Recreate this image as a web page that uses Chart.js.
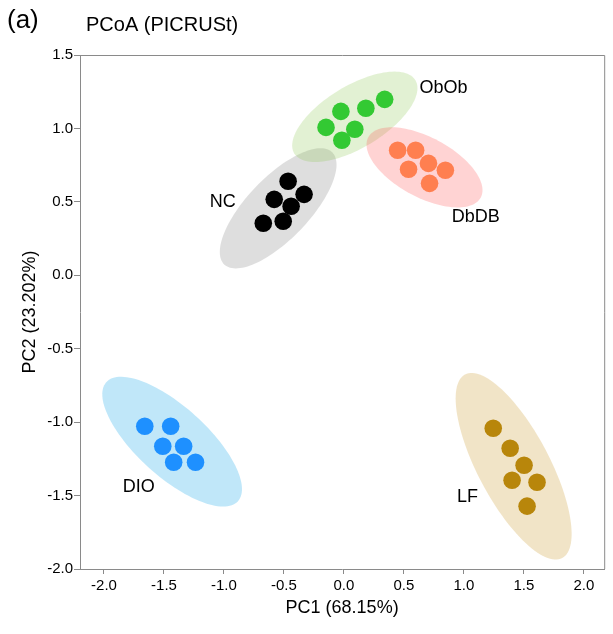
<!DOCTYPE html>
<html>
<head>
<meta charset="utf-8">
<script src="https://cdn.jsdelivr.net/npm/chart.js@4.4.1/dist/chart.umd.min.js"></script>
<style>
  html, body { margin: 0; padding: 0; background: #fff; }
  #wrap { width: 613px; height: 634px; }
</style>
</head>
<body>
<div id="wrap"><canvas id="pcoa"></canvas></div>
<script>
// PCoA (PICRUSt) scores per group
const groupNames = ["NC", "ObOb", "DbDB", "DIO", "LF"];
const groupColors = ["#000000", "#33c933", "#ff7f50", "#1e90ff", "#b8860b"];
const ellipseColors = [
  "rgba(128,128,128,0.26)",
  "rgba(140,200,80,0.25)",
  "rgba(255,80,80,0.25)",
  "rgba(60,180,235,0.32)",
  "rgba(210,170,80,0.32)"
];

const ncX = [-0.465, -0.332, -0.581, -0.440, -0.672, -0.506];
const ncY = [0.640, 0.551, 0.517, 0.470, 0.354, 0.368];
const obobX = [-0.149, -0.025, 0.183, 0.340, 0.091, -0.017];
const obobY = [1.007, 1.116, 1.137, 1.198, 0.994, 0.919];
const dbdbX = [0.448, 0.598, 0.705, 0.539, 0.846, 0.714];
const dbdbY = [0.851, 0.851, 0.762, 0.722, 0.715, 0.626];
const dioX = [-1.660, -1.444, -1.510, -1.336, -1.419, -1.237];
const dioY = [-1.028, -1.028, -1.164, -1.164, -1.273, -1.273];
const lfX = [1.245, 1.386, 1.502, 1.402, 1.610, 1.527];
const lfY = [-1.042, -1.178, -1.294, -1.396, -1.409, -1.572];

// confidence ellipses (data units): centre and two half-axis vectors
const ellipseCX = [-0.548, 0.091, 0.672, -1.432, 1.415];
const ellipseCY = [0.456, 1.079, 0.735, -1.133, -1.300];
const ellipseAX = [0.450, 0.505, 0.469, 0.549, 0.405];
const ellipseAY = [0.382, 0.249, -0.205, -0.405, -0.625];
const ellipseBX = [0.185, 0.1325, -0.117, -0.194, -0.264];
const ellipseBY = [-0.147, -0.181, -0.180, -0.177, -0.115];

// group label anchors (data units)
const labelX = [-1.01, 0.83, 1.10, -1.71, 1.03];
const labelY = [0.50, 1.273, 0.40, -1.44, -1.51];

const xTicks = [-2.0, -1.5, -1.0, -0.5, 0.0, 0.5, 1.0, 1.5, 2.0];
const xMin = -2.2, xMax = 2.17;
const yMin = -2.0, yMax = 1.5;

const allX = [ncX, obobX, dbdbX, dioX, lfX];
const allY = [ncY, obobY, dbdbY, dioY, lfY];

const FONT = "'Liberation Sans', Arial, Helvetica, sans-serif";
const axisGrey = "#8a8a8a";

const datasets = groupNames.map((name, g) => ({
  label: name,
  data: allX[g].map((x, i) => ({ x: x, y: allY[g][i] })),
  backgroundColor: groupColors[g],
  borderWidth: 0,
  pointRadius: 8.8,
  pointHoverRadius: 8.8
}));

const ellipsePlugin = {
  id: "ellipses",
  beforeDatasetsDraw(chart) {
    const ctx = chart.ctx;
    const xs = chart.scales.x, ys = chart.scales.y;
    const a = chart.chartArea;
    ctx.save();
    ctx.beginPath();
    ctx.rect(a.left, a.top, a.right - a.left, a.bottom - a.top);
    ctx.clip();
    for (let g = 0; g < groupNames.length; g++) {
      ctx.beginPath();
      for (let k = 0; k <= 120; k++) {
        const t = k / 120 * Math.PI * 2;
        const dx = ellipseCX[g] + ellipseAX[g] * Math.cos(t) + ellipseBX[g] * Math.sin(t);
        const dy = ellipseCY[g] + ellipseAY[g] * Math.cos(t) + ellipseBY[g] * Math.sin(t);
        const px = xs.getPixelForValue(dx), py = ys.getPixelForValue(dy);
        if (k === 0) ctx.moveTo(px, py); else ctx.lineTo(px, py);
      }
      ctx.closePath();
      ctx.fillStyle = ellipseColors[g];
      ctx.fill();
    }
    ctx.restore();
  },
  afterDatasetsDraw(chart) {
    const ctx = chart.ctx;
    const xs = chart.scales.x, ys = chart.scales.y;
    ctx.save();
    ctx.fillStyle = "#000";
    ctx.font = "18px " + FONT;
    ctx.textAlign = "center";
    ctx.textBaseline = "middle";
    groupNames.forEach((name, g) => {
      ctx.fillText(name, xs.getPixelForValue(labelX[g]), ys.getPixelForValue(labelY[g]));
    });
    ctx.restore();
  },
  afterDraw(chart) {
    const ctx = chart.ctx;
    const a = chart.chartArea;
    ctx.save();
    // top and right frame lines
    ctx.strokeStyle = axisGrey;
    ctx.lineWidth = 1;
    ctx.beginPath();
    ctx.moveTo(a.left, a.top + 0.5);
    ctx.lineTo(a.right + 0.5, a.top + 0.5);
    ctx.lineTo(a.right + 0.5, a.bottom);
    ctx.stroke();
    // titles
    ctx.fillStyle = "#000";
    ctx.textBaseline = "middle";
    ctx.textAlign = "left";
    ctx.font = "26px " + FONT;
    ctx.fillText("(a)", 7, 21);
    ctx.font = "20px " + FONT;
    ctx.fillText("PCoA (PICRUSt)", 86, 25);
    ctx.restore();
  }
};

new Chart(document.getElementById("pcoa"), {
  type: "scatter",
  data: { datasets: datasets },
  options: {
    responsive: true,
    maintainAspectRatio: false,
    animation: false,
    layout: { padding: { top: 55, right: 5, left: 0, bottom: 0 } },
    plugins: {
      legend: { display: false },
      tooltip: { enabled: false }
    },
    scales: {
      x: {
        type: "linear",
        min: xMin,
        max: xMax,
        afterBuildTicks: (scale) => { scale.ticks = xTicks.map(v => ({ value: v })); },
        afterFit: (scale) => { scale.height = 65; },
        grid: { drawOnChartArea: false, drawTicks: true, tickLength: 5, color: axisGrey },
        border: { display: true, color: axisGrey, width: 1 },
        ticks: {
          color: "#000",
          padding: 3,
          maxRotation: 0,
          font: { family: FONT, size: 15 },
          callback: (v) => Number(v).toFixed(1)
        },
        title: {
          display: true,
          text: "PC1 (68.15%)",
          color: "#000",
          font: { family: FONT, size: 18 },
          padding: { top: 0, bottom: 15 }
        }
      },
      y: {
        type: "linear",
        min: yMin,
        max: yMax,
        afterFit: (scale) => { scale.width = 80; },
        grid: { drawOnChartArea: false, drawTicks: true, tickLength: 6, color: axisGrey },
        border: { display: true, color: axisGrey, width: 1 },
        ticks: {
          stepSize: 0.5,
          color: "#000",
          padding: 1,
          font: { family: FONT, size: 15 },
          callback: (v) => Number(v).toFixed(1)
        },
        title: {
          display: true,
          text: "PC2 (23.202%)",
          color: "#000",
          font: { family: FONT, size: 18 },
          padding: { top: 19, bottom: 0 }
        }
      }
    }
  },
  plugins: [ellipsePlugin]
});
</script>
</body>
</html>
